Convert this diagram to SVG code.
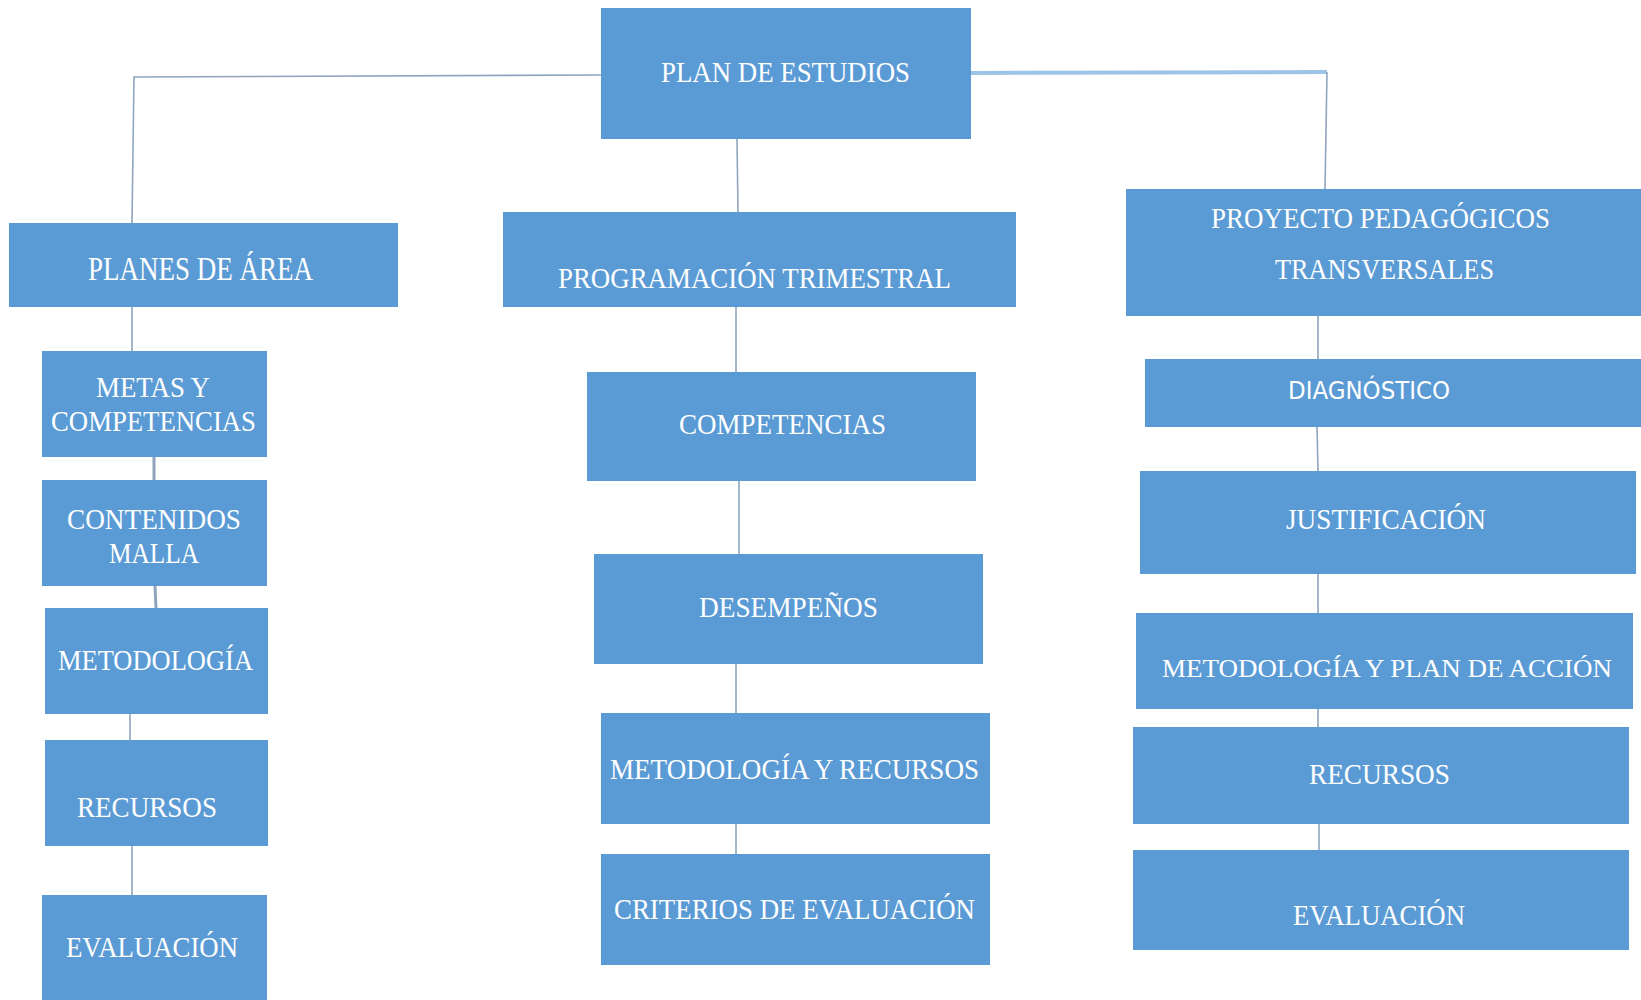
<svg xmlns="http://www.w3.org/2000/svg" width="1641" height="1000" viewBox="0 0 1641 1000">
<style>
.box{fill:#5B9BD5}
.t{fill:#ffffff;font-family:"Liberation Serif","Times New Roman",serif;font-size:30px;text-anchor:start}
.s{fill:#ffffff;font-family:"DejaVu Sans","Liberation Sans",sans-serif;font-size:25px;text-anchor:start}
.c{fill:none;stroke:#8FA5BE;stroke-width:1.6}
.c2{fill:none;stroke:#9DC3E6;stroke-width:4}
</style>
<rect width="1641" height="1000" fill="#ffffff"/>
<g id="connectors">
<path class="c" d="M601 75 L134 77 L132 223"/>
<path class="c2" d="M971 73 L1327 72"/>
<path class="c" d="M1327 72 L1325 189"/>
<path class="c" d="M737 139 L738 212"/>
<path class="c" d="M132 307 L132 351"/>
<path class="c" d="M154 457 L154 480" style="stroke-width:3"/>
<path class="c" d="M155 586 L156 608" style="stroke-width:3"/>
<path class="c" d="M130 714 L130 740"/>
<path class="c" d="M132 846 L132 895"/>
<path class="c" d="M736 307 L736 372"/>
<path class="c" d="M739 481 L739 554"/>
<path class="c" d="M736 664 L736 713"/>
<path class="c" d="M736 824 L736 854"/>
<path class="c" d="M1318 316 L1318 359"/>
<path class="c" d="M1317 427 L1318 471"/>
<path class="c" d="M1318 574 L1318 613"/>
<path class="c" d="M1318 709 L1318 727"/>
<path class="c" d="M1319 824 L1319 850"/>
</g>
<g id="plan-estudios"><rect class="box" x="601" y="8" width="370" height="131"/><text class="t" x="661" y="82" textLength="249" lengthAdjust="spacingAndGlyphs">PLAN DE ESTUDIOS</text></g>
<g id="planes-area"><rect class="box" x="9" y="223" width="389" height="84"/><text class="t" x="88" y="280" style="font-size:33px" textLength="225" lengthAdjust="spacingAndGlyphs">PLANES DE ÁREA</text></g>
<g id="programacion"><rect class="box" x="503" y="212" width="513" height="95"/><text class="t" x="558" y="288" textLength="393" lengthAdjust="spacingAndGlyphs">PROGRAMACIÓN TRIMESTRAL</text></g>
<g id="proyecto"><rect class="box" x="1126" y="189" width="515" height="127"/><text class="t" x="1211" y="228" textLength="339" lengthAdjust="spacingAndGlyphs">PROYECTO PEDAGÓGICOS</text><text class="t" x="1275" y="279" textLength="219" lengthAdjust="spacingAndGlyphs">TRANSVERSALES</text></g>
<g id="metas"><rect class="box" x="42" y="351" width="225" height="106"/><text class="t" x="96" y="397" textLength="114" lengthAdjust="spacingAndGlyphs">METAS Y</text><text class="t" x="51" y="431" textLength="205" lengthAdjust="spacingAndGlyphs">COMPETENCIAS</text></g>
<g id="contenidos"><rect class="box" x="42" y="480" width="225" height="106"/><text class="t" x="67" y="529" textLength="174" lengthAdjust="spacingAndGlyphs">CONTENIDOS</text><text class="t" x="109" y="563" textLength="90" lengthAdjust="spacingAndGlyphs">MALLA</text></g>
<g id="metodologia-l"><rect class="box" x="45" y="608" width="223" height="106"/><text class="t" x="58" y="670" textLength="195" lengthAdjust="spacingAndGlyphs">METODOLOGÍA</text></g>
<g id="recursos-l"><rect class="box" x="45" y="740" width="223" height="106"/><text class="t" x="77" y="817" textLength="140" lengthAdjust="spacingAndGlyphs">RECURSOS</text></g>
<g id="evaluacion-l"><rect class="box" x="42" y="895" width="225" height="105"/><text class="t" x="66" y="957" textLength="172" lengthAdjust="spacingAndGlyphs">EVALUACIÓN</text></g>
<g id="competencias"><rect class="box" x="587" y="372" width="389" height="109"/><text class="t" x="679" y="434" textLength="207" lengthAdjust="spacingAndGlyphs">COMPETENCIAS</text></g>
<g id="desempenos"><rect class="box" x="594" y="554" width="389" height="110"/><text class="t" x="699" y="617" textLength="179" lengthAdjust="spacingAndGlyphs">DESEMPEÑOS</text></g>
<g id="metodologia-recursos"><rect class="box" x="601" y="713" width="389" height="111"/><text class="t" x="610" y="779" textLength="369" lengthAdjust="spacingAndGlyphs">METODOLOGÍA Y RECURSOS</text></g>
<g id="criterios"><rect class="box" x="601" y="854" width="389" height="111"/><text class="t" x="614" y="919" textLength="361" lengthAdjust="spacingAndGlyphs">CRITERIOS DE EVALUACIÓN</text></g>
<g id="diagnostico"><rect class="box" x="1145" y="359" width="496" height="68"/><text class="s" x="1288" y="399" textLength="162" lengthAdjust="spacingAndGlyphs">DIAGNÓSTICO</text></g>
<g id="justificacion"><rect class="box" x="1140" y="471" width="496" height="103"/><text class="t" x="1286" y="529" textLength="200" lengthAdjust="spacingAndGlyphs">JUSTIFICACIÓN</text></g>
<g id="metodologia-plan"><rect class="box" x="1136" y="613" width="497" height="96"/><text class="t" x="1162" y="677" style="font-size:26px" textLength="450" lengthAdjust="spacingAndGlyphs">METODOLOGÍA Y PLAN DE ACCIÓN</text></g>
<g id="recursos-r"><rect class="box" x="1133" y="727" width="496" height="97"/><text class="t" x="1309" y="784" textLength="141" lengthAdjust="spacingAndGlyphs">RECURSOS</text></g>
<g id="evaluacion-r"><rect class="box" x="1133" y="850" width="496" height="100"/><text class="t" x="1293" y="925" textLength="172" lengthAdjust="spacingAndGlyphs">EVALUACIÓN</text></g>
</svg>
